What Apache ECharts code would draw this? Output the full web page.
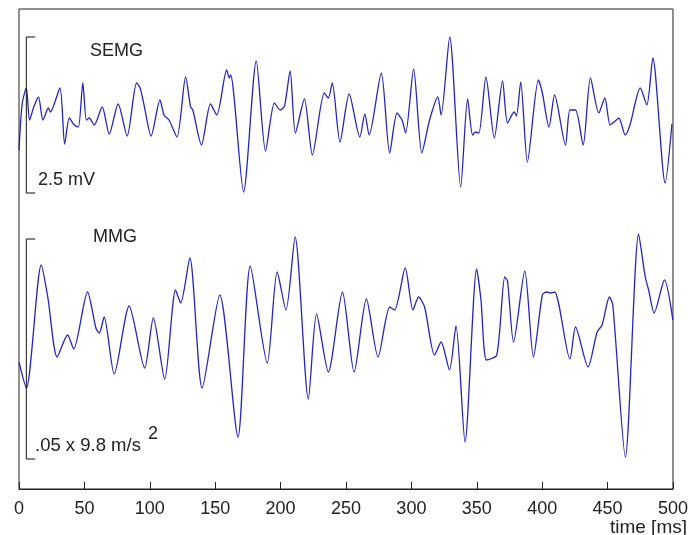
<!DOCTYPE html>
<html>
<head>
<meta charset="utf-8">
<script src="https://cdn.jsdelivr.net/npm/echarts@6/dist/echarts.min.js"></script>
<style>html,body{margin:0;padding:0;background:#fff}#c{width:691px;height:535px}</style>
</head>
<body>
<div id="c"></div>
<script>
// x tick labels (ms)
var xTicks = [0, 50, 100, 150, 200, 250, 300, 350, 400, 450, 500];

// SEMG trace: time (ms) and deflection (arbitrary display units)
var semgTime = [0,2.5,5.6,8.1,11.3,14.9,18.3,22.5,24,31.3,34.9,38.5,42.3,45.4,48.8,51.5,53.7,57.5,63.6,69,75.8,82.7,89.9,92.6,95.6,101,107.8,110.9,114.7,120.8,127.4,131.2,132.9,139.5,146.4,151.2,158.8,160.7,161.8,171.7,181.4,188.5,195.3,199.7,203,207.3,211.3,218.2,224.3,233.4,236.5,239.5,245.4,252.4,260.6,264.4,267.7,277,283.4,289,292.8,295.6,301.7,308,313.9,320.2,322.7,329.3,337.7,343,346.8,349,351.6,357,363.4,369.7,373.5,378.6,380.3,383.6,388.7,397.1,400,405.2,409.5,417.8,421.2,425.5,431.3,436.9,443.3,447.9,451.9,455,458.6,463.5,467.1,475,480,484.6,494,499.2];
var semgValue = [-35,12,27,-5,8,18,-5,7,3,27,-29,-3,-10,-12,32,-5,-3,-10,8,-19,11,-21,32,27,10,-21,15,0,-5,-22,38,8,5,-30,11,0,45,37,40,-77,54,-36,12,5,9,44,-18,16,-40,22,17,32,-27,21,-22,1,-20,42,-38,2,-5,-18,46,-38,-5,18,0,78,-72,16,-20,-17,-18,38,-23,34,-8,3,-1,33,-47,35,23,-12,20,-30,5,5,-30,37,2,17,-10,-7,-3,-20,-10,27,10,57,-68,-9];

// MMG trace
var mmgTime = [0,5.6,17,22,29.2,37.2,41.8,52.4,58.8,61.4,65.1,72.8,84.2,96.1,102.7,111.4,119.7,123.6,130.6,140,153.5,167.4,176.8,189.8,197.4,204.1,211.1,221.2,227.5,236.5,247.3,256.2,265.6,274.5,283.4,287.2,295.3,301.2,305.5,310.1,317.7,322.7,329.1,334.1,341,349.9,353.2,357.5,365.3,371.4,373.5,378.1,386.7,393.3,400.1,403.4,406.2,409.5,421.2,425.5,435.1,442,445.8,451.4,454,463.6,473.7,478.8,481.4,485.6,493.5,499.9];
var mmgValue = [-32,-58,65,33,-27,-5,-19,38,2,-3,13,-44,24,-38,12,-49,40,27,72,-58,35,-107,64,-33,58,20,93,-69,16,-42,38,-42,31,-27,23,20,62,20,33,23,-25,-12,-40,4,-112,61,30,-30,-25,53,49,-12,59,-27,35,38,37,38,-29,3,-37,-2,5,33,25,-127,96,53,40,17,50,10];

// scale bars (time ms, display units)
var semgBarTime = [12.4, 5.6, 5.6, 12.4];
var semgBarValue = [452, 452, 296, 296];
var mmgBarTime = [12.4, 5.6, 5.6, 12.4];
var mmgBarValue = [250, 250, 30, 30];

var SEMG_BASE = 374, MMG_BASE = 159;

function pairs(t, v, off) {
  return t.map(function (x, i) { return [x, v[i] + off]; });
}

var chart = echarts.init(document.getElementById('c'), null, {renderer: 'canvas'});
var tickFont = "'Liberation Sans Narrow', 'Liberation Sans', Arial, sans-serif";
var textFont = "'Liberation Sans', Arial, sans-serif";
var lineColor = '#2626b6';
chart.setOption({
  animation: false,
  backgroundColor: '#fff',
  grid: {left: 19, right: 15, top: 9, bottom: 46, show: true, borderColor: '#222', borderWidth: 1, backgroundColor: 'transparent'},
  xAxis: {
    type: 'value', min: xTicks[0], max: xTicks[xTicks.length - 1], interval: 50,
    axisLine: {show: true, onZero: false, lineStyle: {color: '#222', width: 1}},
    axisTick: {show: true, inside: true, length: 7, lineStyle: {color: '#222'}},
    axisLabel: {show: true, margin: 11, color: '#222', fontSize: 18, fontFamily: tickFont, showMinLabel: true, showMaxLabel: true},
    splitLine: {show: false}
  },
  yAxis: {type: 'value', min: 0, max: 480, show: false, splitLine: {show: false}},
  series: [
    {type: 'line', data: pairs(semgTime, semgValue, SEMG_BASE), smooth: 0.25, showSymbol: false, lineStyle: {color: lineColor, width: 1.3}, itemStyle: {color: lineColor}},
    {type: 'line', data: pairs(mmgTime, mmgValue, MMG_BASE), smooth: 0.25, showSymbol: false, lineStyle: {color: lineColor, width: 1.3}, itemStyle: {color: lineColor}},
    {type: 'line', data: pairs(semgBarTime, semgBarValue, 0), showSymbol: false, lineStyle: {color: '#111', width: 1}},
    {type: 'line', data: pairs(mmgBarTime, mmgBarValue, 0), showSymbol: false, lineStyle: {color: '#111', width: 1}}
  ],
  graphic: [
    {type: 'text', x: 90, y: 51.5, style: {text: 'SEMG', font: "18px " + textFont, fill: '#222', textVerticalAlign: 'middle'}},
    {type: 'text', x: 38, y: 180, style: {text: '2.5 mV', font: "18px " + textFont, fill: '#222', textVerticalAlign: 'middle'}},
    {type: 'text', x: 93, y: 237.5, style: {text: 'MMG', font: "18px " + textFont, fill: '#222', textVerticalAlign: 'middle'}},
    {type: 'text', x: 35, y: 446, style: {text: '.05 x 9.8 m/s', font: "18.5px " + textFont, fill: '#222', textVerticalAlign: 'middle'}},
    {type: 'text', x: 148, y: 434, style: {text: '2', font: "18px " + textFont, fill: '#222', textVerticalAlign: 'middle'}},
    {type: 'text', x: 687, y: 528, style: {text: 'time [ms]', font: "19px " + tickFont, fill: '#222', textAlign: 'right', textVerticalAlign: 'middle'}}
  ]
});
</script>
</body>
</html>
